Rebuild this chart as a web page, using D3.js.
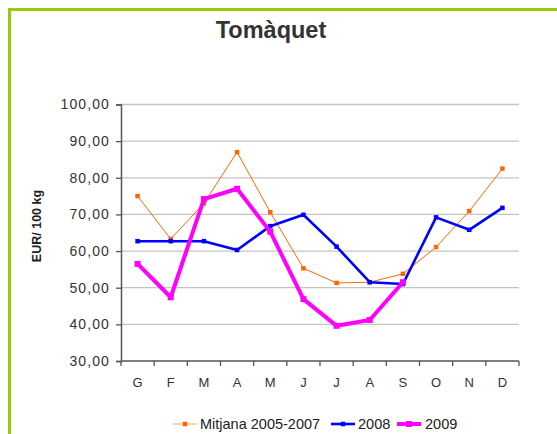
<!DOCTYPE html>
<html><head><meta charset="utf-8">
<script src="https://cdn.jsdelivr.net/npm/d3@7/dist/d3.min.js"></script>
<style>body{margin:0;background:#fff}svg{display:block;font-family:Arial,"Liberation Sans",sans-serif}</style>
</head><body>
<script>
const months = ["G","F","M","A","M","J","J","A","S","O","N","D"];
const mitjana = [75.0,63.3,73.0,87.0,70.6,55.3,51.3,51.5,53.8,61.1,70.9,82.5];
const y2008 = [62.7,62.7,62.7,60.3,66.8,69.9,61.2,51.5,51.0,69.2,65.8,71.8];
const y2009 = [56.5,47.4,74.2,77.0,65.3,46.9,39.6,41.2,51.5,null,null,null];
const yTicks = [30,40,50,60,70,80,90,100];
const seriesNames = ["Mitjana 2005-2007","2008","2009"];

(function(){
const W=557,H=434;
const svg=d3.select("body").append("svg").attr("width",W).attr("height",H);
svg.append("rect").attr("x",9.5).attr("y",9.5).attr("width",600).attr("height",600)
  .attr("fill","none").attr("stroke","#99cc00").attr("stroke-width",3);

const pl=121,pr=519,pt=104.5,pb=361;
const x=d3.scaleBand().domain(d3.range(12)).range([pl,pr]);
const y=d3.scaleLinear().domain([30,100]).range([pb,pt]);

svg.append("text").attr("x",271).attr("y",38).attr("text-anchor","middle")
  .attr("font-size",23.5).attr("font-weight","bold").attr("fill","#333").text("Tomàquet");

svg.append("g").selectAll("line").data(yTicks.filter(d=>d>30)).join("line")
  .attr("x1",pl).attr("x2",pr).attr("y1",d=>y(d)).attr("y2",d=>y(d))
  .attr("stroke","#c4c4c4").attr("stroke-width",1.3);

const ya=svg.append("g").attr("transform",`translate(${pl},0)`)
  .call(d3.axisLeft(y).tickValues(yTicks).tickSize(5).tickPadding(6)
    .tickFormat(d=>d3.format(".2f")(d).replace(".",",")));
ya.select(".domain").attr("stroke","#555").attr("stroke-width",1.5);
ya.selectAll(".tick line").attr("stroke","#555").attr("stroke-width",1.3);
ya.selectAll("text").attr("font-size",14).attr("fill","#333").style("letter-spacing","1.1px")
  .attr("font-family","Arial, 'Liberation Sans', sans-serif");

const xa=svg.append("g").attr("transform",`translate(0,${pb})`);
xa.append("line").attr("x1",pl).attr("x2",pr).attr("stroke","#555").attr("stroke-width",1.5);
xa.selectAll("line.t").data(d3.range(13)).join("line").attr("class","t")
  .attr("x1",i=>pl+i*x.step()).attr("x2",i=>pl+i*x.step()).attr("y1",0).attr("y2",5)
  .attr("stroke","#555").attr("stroke-width",1.3);
xa.selectAll("text").data(months).join("text")
  .attr("x",(d,i)=>x(i)+x.bandwidth()/2).attr("y",26).attr("text-anchor","middle")
  .attr("font-size",13).attr("fill","#333").text(d=>d);

svg.append("text").attr("transform","translate(41,226) rotate(-90)").attr("text-anchor","middle")
  .attr("font-size",12.5).attr("font-weight","bold").attr("fill","#222").text("EUR/ 100 kg");

const cx=i=>x(i)+x.bandwidth()/2;
const line=d3.line().defined(d=>d!=null).x((d,i)=>cx(i)).y(d=>y(d));
const styles=[
  {data:mitjana,color:"#ff6600",w:1,m:4.5},
  {data:y2008,color:"#0000ff",w:2.6,m:4.5},
  {data:y2009,color:"#ff00ff",w:4,m:6}
];
styles.forEach(s=>{
  svg.append("path").datum(s.data).attr("d",line).attr("fill","none")
    .attr("stroke",s.color).attr("stroke-width",s.w).attr("stroke-linejoin","round");
  svg.append("g").selectAll("rect").data(s.data.map((v,i)=>({v,i})).filter(d=>d.v!=null)).join("rect")
    .attr("x",d=>cx(d.i)-s.m/2).attr("y",d=>y(d.v)-s.m/2).attr("width",s.m).attr("height",s.m)
    .attr("fill",s.color);
});

const leg=[{x:173,tx:200},{x:331,tx:358},{x:397,tx:425}];
const ly=424;
styles.forEach((s,k)=>{
  const g=svg.append("g");
  g.append("line").attr("x1",leg[k].x).attr("x2",leg[k].x+24).attr("y1",ly).attr("y2",ly)
    .attr("stroke",s.color).attr("stroke-width",s.w).attr("opacity",k==0?0.6:1);
  g.append("rect").attr("x",leg[k].x+12-s.m/2).attr("y",ly-s.m/2).attr("width",s.m).attr("height",s.m).attr("fill",s.color);
  g.append("text").attr("x",leg[k].tx).attr("y",ly+5).attr("font-size",14.5).attr("fill","#222").text(seriesNames[k]);
});
})();
</script>
</body></html>
